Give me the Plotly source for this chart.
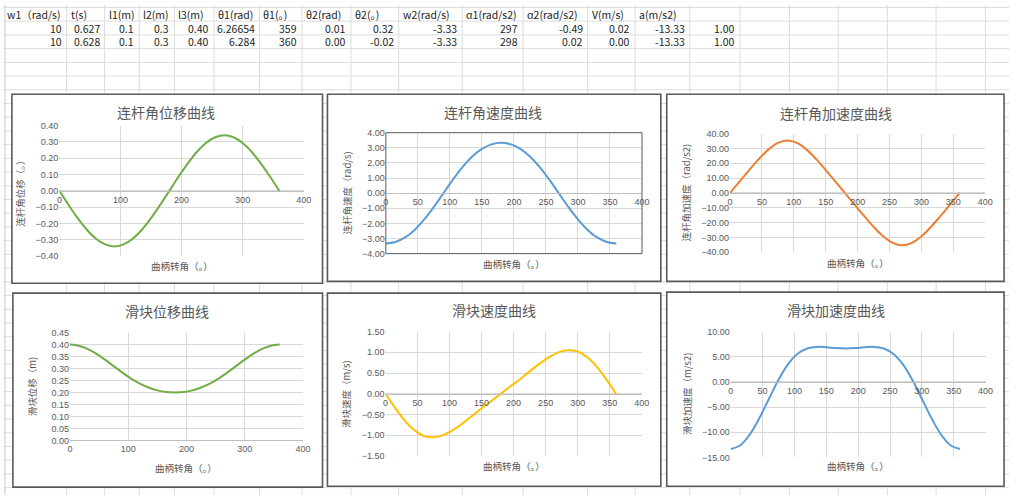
import plotly.graph_objects as go

# ---------------- data ----------------
crank_angle = [0, 15, 30, 45, 60, 75, 90, 105, 120, 135, 150, 165, 180,
               195, 210, 225, 240, 255, 270, 285, 300, 315, 330, 345, 360]

link_angle = [0.00, -0.086, -0.167, -0.238, -0.293, -0.328, -0.340, -0.328, -0.293, -0.238, -0.167, -0.086, 0.00,
              0.086, 0.167, 0.238, 0.293, 0.328, 0.340, 0.328, 0.293, 0.238, 0.167, 0.086, 0.00]

link_vel = [-3.33, -3.23, -2.93, -2.43, -1.74, -0.91, 0.00, 0.91, 1.74, 2.43, 2.93, 3.23, 3.33,
            3.23, 2.93, 2.43, 1.74, 0.91, 0.00, -0.91, -1.74, -2.43, -2.93, -3.23, -3.33]

link_acc = [0.0, 7.76, 15.45, 22.83, 29.24, 33.73, 35.36, 33.73, 29.24, 22.83, 15.45, 7.76, 0.0,
            -7.76, -15.45, -22.83, -29.24, -33.73, -35.36, -33.73, -29.24, -22.83, -15.45, -7.76, 0.0]

slider_pos = [0.400, 0.395, 0.382, 0.362, 0.337, 0.310, 0.283, 0.258, 0.237, 0.221, 0.209, 0.202, 0.200,
              0.202, 0.209, 0.221, 0.237, 0.258, 0.283, 0.310, 0.337, 0.362, 0.382, 0.395, 0.400]

slider_vel = [0.00, -0.34, -0.65, -0.88, -1.02, -1.05, -1.00, -0.88, -0.72, -0.54, -0.35, -0.18, 0.00,
              0.18, 0.35, 0.54, 0.72, 0.88, 1.00, 1.05, 1.02, 0.88, 0.65, 0.34, 0.00]

slider_acc = [-13.33, -12.58, -10.42, -7.17, -3.34, 0.43, 3.54, 5.61, 6.66, 6.97, 6.90, 6.74, 6.67,
              6.74, 6.90, 6.97, 6.66, 5.61, 3.54, 0.43, -3.34, -7.17, -10.42, -12.58, -13.33]

# spreadsheet cells
table_headers = ["w1（rad/s)", "t(s)", "l1(m)", "l2(m)", "l3(m)", "θ1(rad)", "θ1(。)", "θ2(rad)",
                 "θ2(。)", "w2(rad/s)", "α1(rad/s2)", "α2(rad/s2)", "V(m/s)", "a(m/s2)", ""]
table_row1 = ["10", "0.627", "0.1", "0.3", "0.40", "6.26654", "359", "0.01", "0.32",
              "-3.33", "297", "-0.49", "0.02", "-13.33", "1.00"]
table_row2 = ["10", "0.628", "0.1", "0.3", "0.40", "6.284", "360", "0.00", "-0.02",
              "-3.33", "298", "0.02", "0.00", "-13.33", "1.00"]

x_title = "曲柄转角（。）"
chart_titles = ["连杆角位移曲线", "连杆角速度曲线", "连杆角加速度曲线",
                "滑块位移曲线", "滑块速度曲线", "滑块加速度曲线"]
y_titles = ["连杆角位移（。）", "连杆角速度（rad/s)", "连杆角加速度（rad/s2)",
            "滑块位移（m)", "滑块速度（m/s)", "滑块加速度（m/s2)"]
series = [link_angle, link_vel, link_acc, slider_pos, slider_vel, slider_acc]

# ---------------- layout / style ----------------
W, H = 1017, 500
def PX(x): return x / W
def PY(y): return 1 - y / H

colors = ["#70AD47", "#5B9BD5", "#ED7D31", "#70AD47", "#FFC000", "#5B9BD5"]
y_ranges = [[-0.4, 0.4], [-4, 4], [-40, 40], [0, 0.45], [-1.5, 1.5], [-15, 10]]
y_dticks = [0.1, 1, 10, 0.05, 0.5, 5]
x_dticks = [100, 50, 50, 100, 50, 50]
boxes = [(9, 91, 323, 284), (328, 91, 665, 282), (671, 91, 1012, 282),
         (10, 294, 323, 492), (328, 294, 665, 491), (671, 293, 1012, 491)]
plots = [(57, 123, 304, 256.3), (387, 130.3, 646, 253.7), (735, 131.3, 993, 252.3),
         (67.7, 334.3, 303.3, 444.3), (386.7, 333.3, 645.7, 460), (735.7, 333.3, 993.3, 461.7)]
title_pos = [(165, 109), (495, 109), (842, 110), (166, 312.7), (496, 311.7), (842, 311.7)]
ytitle_x = [17, 348, 690, 29, 346, 691]
xtitle_y = [266, 264, 263, 472.7, 470, 470.7]

col_edges = [64.3, 102.7, 137.7, 173.3, 213.3, 259.3, 302.3, 351.7, 400, 464.3, 525.7,
             591, 639, 694.3, 745, 795, 844.3, 894, 943.3, 993.3]
row_edges = [2.5 + 14 * k for k in range(36)]

GRID = "#D9D9D9"
TXT = "#595959"
CJK = "Noto Sans CJK SC"

fig = go.Figure()
shapes = []
annotations = []

# spreadsheet grid
for xe in col_edges:
    shapes.append(dict(type="line", xref="paper", yref="paper", x0=PX(xe), x1=PX(xe), y0=0, y1=1,
                       line=dict(color="#DCDCDC", width=1), layer="below"))
shapes.append(dict(type="line", xref="paper", yref="paper", x0=PX(2), x1=PX(2), y0=0, y1=1,
                   line=dict(color="#C8C8C8", width=1), layer="below"))
for ye in row_edges:
    shapes.append(dict(type="line", xref="paper", yref="paper", x0=0, x1=1, y0=PY(ye), y1=PY(ye),
                       line=dict(color="#DCDCDC", width=1), layer="below"))

# spreadsheet text
col_lefts = [0] + col_edges[:-1]
for i, h in enumerate(table_headers):
    if h:
        annotations.append(dict(text=h, xref="paper", yref="paper", x=PX(col_lefts[i] + 2), y=PY(9.5),
                                xanchor="left", yanchor="middle", showarrow=False,
                                font=dict(family=CJK, size=10.5, color="#222222")))
for r, (row, yc) in enumerate([(table_row1, 23.5), (table_row2, 37.5)]):
    for i, v in enumerate(row):
        annotations.append(dict(text=v, xref="paper", yref="paper", x=PX(col_edges[i] - 3), y=PY(yc),
                                xanchor="right", yanchor="middle", showarrow=False,
                                font=dict(family=CJK, size=10.5, color="#222222")))

for k in range(6):
    n = "" if k == 0 else str(k + 1)
    xl, yt, xr, yb = plots[k]
    bx0, by0, bx1, by1 = boxes[k]
    # chart frame
    shapes.append(dict(type="rect", xref="paper", yref="paper", x0=PX(bx0), x1=PX(bx1),
                       y0=PY(by1), y1=PY(by0), fillcolor="white",
                       line=dict(color="#5A5A5A", width=1.6), layer="below"))
    ydom = [PY(yb), PY(yt)]
    ymin, ymax = y_ranges[k]
    zero_pos = ydom[0] + (0 - ymin) / (ymax - ymin) * (ydom[1] - ydom[0])

    fig.add_trace(go.Scatter(x=crank_angle, y=series[k], mode="lines",
                             line=dict(color=colors[k], width=2, shape="spline", smoothing=1),
                             xaxis="x" + n, yaxis="y" + n, showlegend=False, hoverinfo="skip"))

    fig.layout["xaxis" + n] = dict(domain=[PX(xl), PX(xr)], range=[0, 400], dtick=x_dticks[k], tick0=0,
                                   anchor="free", position=zero_pos, showgrid=True, gridcolor=GRID,
                                   gridwidth=1, zeroline=False, showline=True, linecolor="#BFBFBF",
                                   linewidth=1, ticks="", fixedrange=True,
                                   tickfont=dict(family="Liberation Sans", size=9, color=TXT))
    fig.layout["yaxis" + n] = dict(domain=ydom, range=y_ranges[k], dtick=y_dticks[k], tick0=0,
                                   anchor="x" + n, showgrid=True, gridcolor=GRID, gridwidth=1,
                                   zeroline=False, showline=False, ticks="", tickformat=".2f",
                                   fixedrange=True,
                                   tickfont=dict(family="Liberation Sans", size=9, color=TXT))
    # chart title
    annotations.append(dict(text=chart_titles[k], xref="paper", yref="paper",
                            x=PX(title_pos[k][0]), y=PY(title_pos[k][1]), xanchor="center",
                            yanchor="middle", showarrow=False,
                            font=dict(family=CJK, size=14, color=TXT)))
    # axis titles
    annotations.append(dict(text=x_title, xref="paper", yref="paper", x=PX((xl + xr) / 2),
                            y=PY(xtitle_y[k]), xanchor="center", yanchor="middle", showarrow=False,
                            font=dict(family=CJK, size=9.5, color=TXT)))
    annotations.append(dict(text=y_titles[k], xref="paper", yref="paper", x=PX(ytitle_x[k]),
                            y=PY((yt + yb) / 2), xanchor="center", yanchor="middle", showarrow=False,
                            textangle=-90, font=dict(family=CJK, size=9.5, color=TXT)))

# dark plot-area border of the second chart
shapes.append(dict(type="rect", xref="x2 domain", yref="y2 domain", x0=0, x1=1, y0=0, y1=1,
                   line=dict(color="#595959", width=1), layer="above"))

fig.update_layout(width=W, height=H, autosize=False, margin=dict(l=0, r=0, t=0, b=0),
                  paper_bgcolor="white", plot_bgcolor="rgba(0,0,0,0)",
                  shapes=shapes, annotations=annotations, showlegend=False)

fig.write_html("out.html", config={"displayModeBar": False},
               post_script="document.documentElement.style.margin='0px';"
                           "document.body.style.margin='0px';document.body.style.overflow='hidden';")
